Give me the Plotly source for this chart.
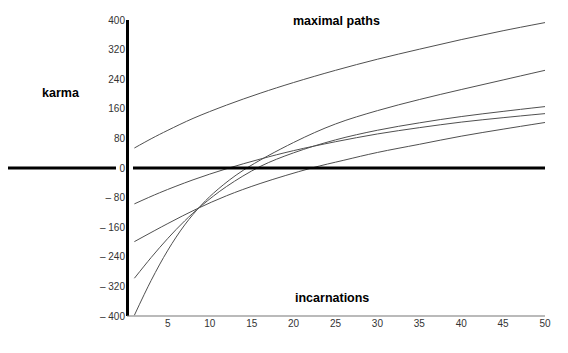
import plotly.graph_objects as go

# ---- data ----
x_a = [1, 3, 5, 8, 12, 16, 20, 25, 30, 35, 40, 45, 50]
path_a = [54, 79, 102, 134, 170, 202, 231, 264, 294, 321, 347, 371, 393]

x_b = [1, 4, 8, 12, 16, 20, 25, 30, 35, 40, 45, 50]
path_b = [-97, -67, -32, -2, 24, 47, 71, 92, 109, 124, 136, 147]

x_c = [1, 5, 8.4, 12, 16, 22, 26, 30, 35, 40, 45, 50]
path_c = [-199, -150, -111, -75, -42, -1, 21, 42, 64, 86, 105, 123]

x_d = [1, 3, 5, 7, 9, 12, 16, 20, 25, 30, 35, 40, 45, 50]
path_d = [-298, -242, -190, -143, -102, -50, 4, 41, 76, 102, 122, 139, 153, 166]

x_e = [1, 3, 5, 7, 9, 11, 14, 20, 25, 30, 35, 40, 45, 50]
path_e = [-398, -304, -222, -154, -100, -57, -6, 69, 119, 155, 185, 212, 238, 264]

x_ticks = [5, 10, 15, 20, 25, 30, 35, 40, 45, 50]
y_ticks = [-400, -320, -240, -160, -80, 0, 80, 160, 240, 320, 400]
y_tick_text = ["\u2013 400", "\u2013 320", "\u2013 240", "\u2013 160", "\u2013 80",
               "0", "80", "160", "240", "320", "400"]

W, H = 568, 353
L, R, T, B = 126, 23, 20, 37

fig = go.Figure()
for xs, ys in [(x_a, path_a), (x_b, path_b), (x_c, path_c), (x_d, path_d), (x_e, path_e)]:
    fig.add_trace(go.Scatter(x=xs, y=ys, mode="lines",
                             line=dict(color="#505050", width=1, shape="spline", smoothing=1.0),
                             hoverinfo="skip", showlegend=False))

pw = W - L - R


def px(p):
    return (p - L) / pw


shapes = [
    # zero line, left piece (outside plot) and right piece
    dict(type="line", xref="paper", yref="y", x0=px(8), x1=px(116), y0=0, y1=0,
         line=dict(color="black", width=3)),
    dict(type="line", xref="paper", yref="y", x0=px(133), x1=1, y0=0, y1=0,
         line=dict(color="black", width=3)),
    # vertical axis
    dict(type="line", xref="paper", yref="paper", x0=px(127.5), x1=px(127.5), y0=0, y1=1,
         line=dict(color="black", width=3)),
    # bottom axis
    dict(type="line", xref="paper", yref="paper", x0=px(127), x1=1, y0=0, y1=0,
         line=dict(color="#777777", width=1.2)),
]

tick_font = dict(family="Liberation Sans Narrow, Arial Narrow, Liberation Sans, Arial", size=10, color="#333333")
title_font = dict(family="Liberation Sans, Arial", size=12.5, color="black")

fig.update_layout(
    width=W, height=H,
    margin=dict(l=L, r=R, t=T, b=B),
    paper_bgcolor="white", plot_bgcolor="white",
    shapes=shapes,
    xaxis=dict(range=[0, 50], tickvals=x_ticks, ticktext=[str(v) for v in x_ticks],
               showgrid=False, zeroline=False, showline=False, ticks="",
               tickfont=tick_font, fixedrange=True),
    yaxis=dict(range=[-400, 400], tickvals=y_ticks, ticktext=y_tick_text,
               showgrid=False, zeroline=False, showline=False, ticks="",
               tickfont=tick_font, fixedrange=True),
    annotations=[
        dict(text="<b>maximal paths</b>", xref="paper", yref="paper",
             x=px(336), y=1 - (21 - T) / (H - T - B), showarrow=False, font=title_font,
             xanchor="center", yanchor="middle"),
        dict(text="<b>karma</b>", xref="paper", yref="paper",
             x=px(61), y=1 - (93 - T) / (H - T - B), showarrow=False, font=title_font,
             xanchor="center", yanchor="middle"),
        dict(text="<b>incarnations</b>", xref="paper", yref="paper",
             x=px(332), y=1 - (298 - T) / (H - T - B), showarrow=False, font=title_font,
             xanchor="center", yanchor="middle"),
    ],
)

fig.write_html("out.html")
